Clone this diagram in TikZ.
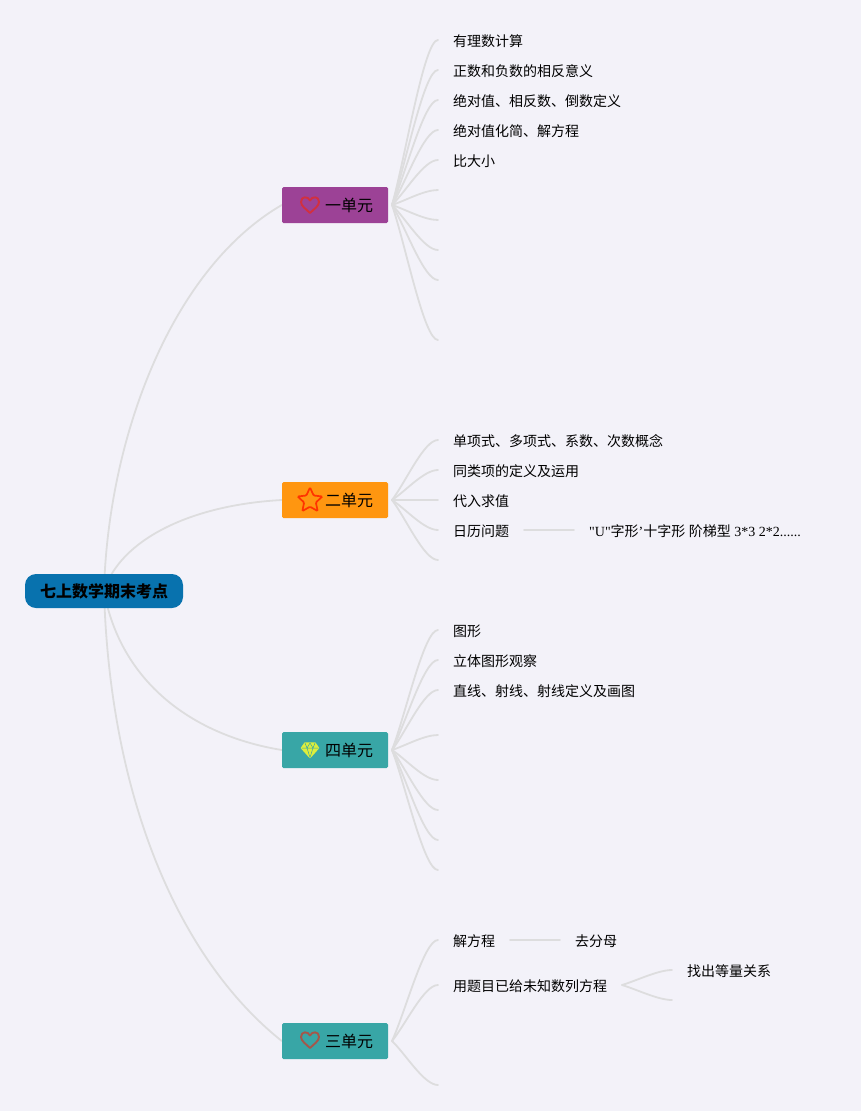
\documentclass[tikz,border=0pt]{standalone}
\usepackage{fontspec}
\setmainfont{Liberation Serif}
\newfontfamily\plainserif{Liberation Serif}
\newfontfamily\cjk{Noto Sans CJK SC}
\usetikzlibrary{backgrounds,calc,shapes.geometric}
\definecolor{bgc}{HTML}{F3F2F9}
\definecolor{linec}{HTML}{DDDDDE}
\definecolor{rootc}{HTML}{0872AE}
\definecolor{purplec}{HTML}{9C4296}
\definecolor{orangec}{HTML}{FF9610}
\definecolor{tealc}{HTML}{38A6A6}
\definecolor{heartone}{HTML}{D2303F}
\definecolor{hearttwo}{HTML}{A4574A}
\definecolor{gemc}{HTML}{DDEE3C}
\tikzset{
  x=1pt,y=-1pt,
  conn/.style={draw=linec,line width=1.8pt,line cap=round},
  rootbox/.style={fill=rootc,rounded corners=11pt,minimum width=158pt,minimum height=34pt,inner sep=0pt,font=\cjk\fontsize{16}{18}\selectfont\bfseries,text height=15pt,text depth=2pt},
  unitbox/.style={rounded corners=1.5pt,minimum width=106pt,minimum height=36pt,inner sep=0pt,font=\cjk\fontsize{16}{18}\selectfont,text height=15pt,text depth=2pt},
  leaf/.style={anchor=west,inner sep=0pt,font=\cjk\fontsize{14}{16}\selectfont},
  heart/.style={line width=1.9pt,line join=round},
}
\newcommand{\heartat}[3]{\begin{scope}[shift={(#1,#2)}]\draw[heart,draw=#3] (0,8) .. controls (-4,4) and (-9,1) .. (-9,-3) .. controls (-9,-9) and (-2,-9) .. (0,-4.5) .. controls (2,-9) and (9,-9) .. (9,-3) .. controls (9,1) and (4,4) .. (0,8) -- cycle;\end{scope}}
\newcommand{\fork}[2]{\draw[conn] (#1) .. controls ($(#1)!0.3!(#2)$) and ($(#2)+(-14,0)$) .. (#2);}
\begin{document}
\begin{tikzpicture}
\useasboundingbox (0,0) rectangle (861,1111);
% nodes
\node[rootbox] (root) at (104,591) {七上数学期末考点};
\node[unitbox,fill=purplec] (u1) at (335,205) {\hspace*{28pt}一单元};
\node[unitbox,fill=orangec] (u2) at (335,500) {\hspace*{28pt}二单元};
\node[unitbox,fill=tealc] (u4) at (335,750) {\hspace*{28pt}四单元};
\node[unitbox,fill=tealc] (u3) at (335,1041) {\hspace*{28pt}三单元};
% fork origins
\coordinate (o1) at (392,205);
\coordinate (o2) at (392,500);
\coordinate (o4) at (392,750);
\coordinate (o3) at (392,1041);
% icons
\heartat{310}{205}{heartone}
\node[star,star points=5,star point ratio=2.1,draw=red!60!orange,line width=1.7pt,minimum size=26pt,inner sep=0pt,rounded corners=1pt] (s2) at (310,500.5) {};
\filldraw[fill=gemc,draw=gemc,line join=round,line width=1.4pt] (305,743) -- (315,743) -- (318.5,748) -- (310,757.5) -- (301.5,748) -- cycle;
\draw[tealc,line width=0.5pt] (301.5,748) -- (318.5,748) (305,743) -- (307,748) -- (310,757.5) -- (313,748) -- (315,743) (310,743) -- (307,748) (310,743) -- (313,748);
\heartat{310}{1040}{hearttwo}
% leaves with text
\foreach \n/\y/\t in {a1/41.5/有理数计算,a2/71.5/正数和负数的相反意义,a3/101.5/绝对值、相反数、倒数定义,a4/131.5/绝对值化简、解方程,a5/161.5/比大小,
  b1/441.5/单项式、多项式、系数、次数概念,b2/471.5/同类项的定义及运用,b3/501.5/代入求值,b4/531.5/日历问题,
  c1/631.5/图形,c2/661.5/立体图形观察,c3/691.5/直线、射线、射线定义及画图,
  d1/941.5/解方程,d2/986.5/用题目已给未知数列方程}
  \node[leaf] (\n) at (453,\y) {\t};
\node[leaf] (b4x) at (589,531.5) {\plainserif "U"{\cjk 字形}’{\cjk 十字形} {\cjk 阶梯型} 3*3 2*2......};
\node[leaf] (d1x) at (575,941.5) {去分母};
\node[leaf] (d2x) at (687,971.5) {找出等量关系};
% connector end points
\foreach \n/\y in {ea1/40,ea2/70,ea3/100,ea4/130,ea5/160,ea6/190,ea7/220,ea8/250,ea9/280,ea10/340,
  eb1/440,eb2/470,eb3/500,eb4/530,eb5/560,
  ec1/630,ec2/660,ec3/690,ec4/735,ec5/780,ec6/810,ec7/840,ec8/870,
  ed1/940,ed2/985,ed3/1085}
  \coordinate (\n) at (438,\y);
\coordinate (f1) at (524,530);
\coordinate (f2) at (574,530);
\coordinate (g1) at (510,940);
\coordinate (g2) at (560,940);
\coordinate (h0) at (622,985);
\coordinate (h1) at (672,970);
\coordinate (h2) at (672,1000);
\begin{scope}[on background layer]
\fill[bgc] (0,0) rectangle (861,1111);
\draw[conn] (root.center) .. controls (108,440) and (170,270) .. (u1.west);
\draw[conn] (root.center) .. controls (120,540) and (190,505) .. (u2.west);
\draw[conn] (root.center) .. controls (120,680) and (190,735) .. (u4.west);
\draw[conn] (root.center) .. controls (110,800) and (180,960) .. (u3.west);
\foreach \e in {ea1,ea2,ea3,ea4,ea5,ea6,ea7,ea8,ea9,ea10} {\fork{o1}{\e}}
\foreach \e in {eb1,eb2,eb3,eb4,eb5} {\fork{o2}{\e}}
\foreach \e in {ec1,ec2,ec3,ec4,ec5,ec6,ec7,ec8} {\fork{o4}{\e}}
\foreach \e in {ed1,ed2,ed3} {\fork{o3}{\e}}
\draw[conn] (f1) -- (f2);
\draw[conn] (g1) -- (g2);
\fork{h0}{h1}
\fork{h0}{h2}
\end{scope}
\end{tikzpicture}
\end{document}
